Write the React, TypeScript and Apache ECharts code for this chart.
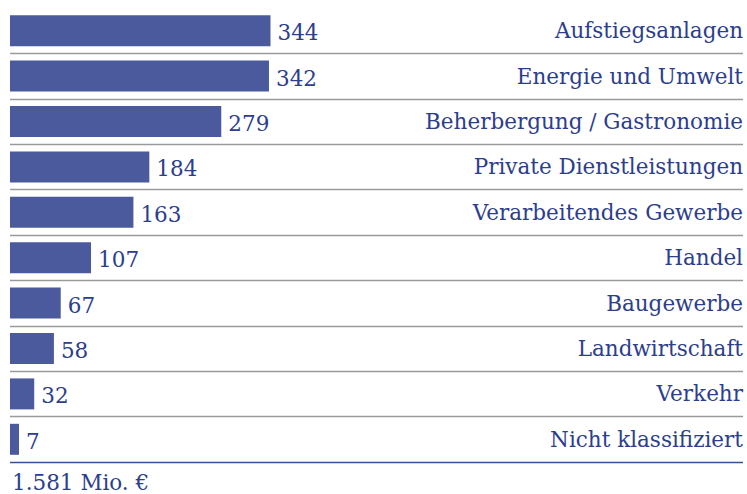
import React, { useEffect, useRef } from "react";
import * as echarts from "echarts";

const categories = [
  "Aufstiegsanlagen",
  "Energie und Umwelt",
  "Beherbergung / Gastronomie",
  "Private Dienstleistungen",
  "Verarbeitendes Gewerbe",
  "Handel",
  "Baugewerbe",
  "Landwirtschaft",
  "Verkehr",
  "Nicht klassifiziert",
];
const values = [344, 342, 279, 184, 163, 107, 67, 58, 32, 7];
const totalLabel = "1.581 Mio. €";

const FONT = "'DejaVu Serif', serif";
const TEXT = "#2C3E8C";
const BAR = "#4B5A9C";
const SIZE = 21.5;

export default function App() {
  const ref = useRef<HTMLDivElement>(null);
  useEffect(() => {
    if (!ref.current) return;
    const chart = echarts.init(ref.current, null, { renderer: "svg" });
    const cats = categories.slice().reverse();
    const vals = values.slice().reverse();
    const lineColors = ["#3451A0"];
    for (let i = 0; i < cats.length - 1; i++) lineColors.push("#9A9A9A");
    lineColors.push("rgba(0,0,0,0)");
    chart.setOption({
      animation: false,
      backgroundColor: "#ffffff",
      grid: { left: 10, right: 4, top: 8, bottom: 32, containLabel: false },
      xAxis: {
        type: "value",
        min: 0,
        max: 968,
        show: false,
      },
      yAxis: {
        type: "category",
        data: cats,
        position: "right",
        axisLine: { show: false },
        axisTick: { show: false },
        axisLabel: {
          inside: true,
          margin: 0,
          color: TEXT,
          fontFamily: FONT,
          fontSize: SIZE,
          align: "right",
        },
        splitLine: {
          show: true,
          lineStyle: { color: lineColors, width: 1.4 },
        },
      },
      series: [
        {
          type: "bar",
          data: vals,
          barWidth: 31,
          itemStyle: { color: BAR },
          barMinHeight: 9,
          label: {
            show: true,
            position: "right",
            distance: 7,
            color: TEXT,
            fontFamily: FONT,
            fontSize: SIZE,
            offset: [0, 2],
          },
        },
      ],
      graphic: [
        {
          type: "text",
          left: 12,
          top: 471,
          style: {
            text: totalLabel,
            fill: TEXT,
            font: `${SIZE}px ${FONT}`,
          },
        },
      ],
    });
    return () => chart.dispose();
  }, []);
  return (
    <div
      ref={ref}
      style={{ position: "fixed", left: 0, top: 0, width: 747, height: 494 }}
    />
  );
}
